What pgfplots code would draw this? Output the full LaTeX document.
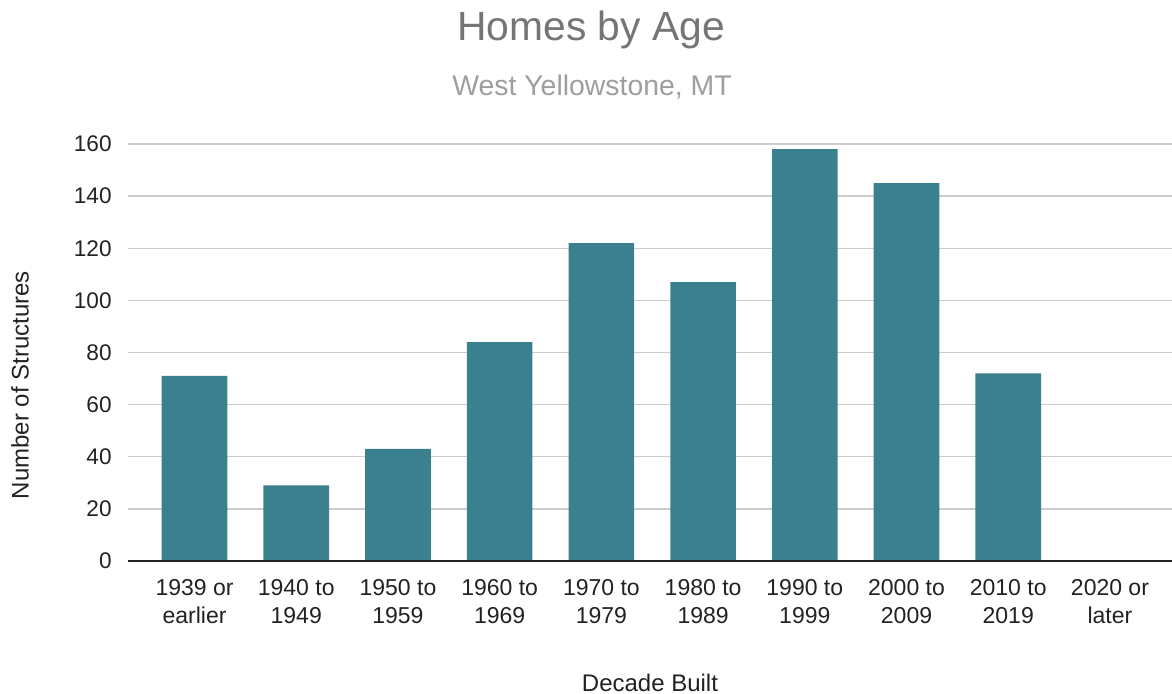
\documentclass[border=0pt]{standalone}
\usepackage{pgfplots}
\pgfplotsset{compat=1.18}
\usepackage{fontspec}
\setmainfont{Liberation Sans}
\definecolor{barcol}{RGB}{58,128,142}
\definecolor{ticktxt}{RGB}{34,34,34}
\definecolor{titlecol}{RGB}{117,117,117}
\definecolor{subcol}{RGB}{158,158,158}
\definecolor{gridcol}{RGB}{204,204,204}
\begin{document}
\begin{tikzpicture}
\useasboundingbox (-64pt,-66.5pt) rectangle (522pt,280.5pt);
\begin{axis}[
  at={(0,0)}, anchor=south west,
  width=522pt, height=208.5pt, scale only axis,
  xmin=-0.654, xmax=9.61, ymin=0, ymax=160,
  enlargelimits=false,
  ytick={0,20,...,160},
  xtick={0,...,9},
  xticklabels={{1939 or\\earlier},{1940 to\\1949},{1950 to\\1959},{1960 to\\1969},{1970 to\\1979},{1980 to\\1989},{1990 to\\1999},{2000 to\\2009},{2010 to\\2019},{2020 or\\later}},
  axis line style={draw=none},
  major tick length=0pt,
  ymajorgrids,
  grid style={color=gridcol, line width=0.7pt},
  /pgf/number format/assume math mode=true,
  yticklabel style={font=\fontsize{11.3}{13}\selectfont, color=ticktxt, anchor=east, inner sep=0pt, xshift=-8pt},
  xticklabel style={font=\fontsize{11.5}{14}\selectfont, color=ticktxt, align=center, anchor=north, inner sep=0pt, yshift=-9pt},
  xlabel={Decade Built},
  ylabel={Number of Structures},
  xlabel style={font=\fontsize{12}{14}\selectfont, color=ticktxt, at={(rel axis cs:0.5,0)}, anchor=center, yshift=-61pt},
  ylabel style={font=\fontsize{12}{14}\selectfont, color=ticktxt, at={(rel axis cs:0,0.422)}, anchor=center, rotate=0, yshift=54pt},
  clip=false,
]
\addplot[ybar, bar width=32.8pt, bar shift=0pt, fill=barcol, draw=none] coordinates {
  (0,71) (1,29) (2,43) (3,84) (4,122) (5,107) (6,158) (7,145) (8,72) (9,0)
};
\draw[line width=1pt, color=ticktxt] (rel axis cs:0,0) -- (rel axis cs:1,0);
\end{axis}
\node[font=\fontsize{20.4}{24}\selectfont, color=titlecol] at (231.5pt,265.5pt) {Homes by Age};
\node[font=\fontsize{14.2}{17}\selectfont, color=subcol] at (232pt,237pt) {West Yellowstone, MT};
\end{tikzpicture}
\end{document}
